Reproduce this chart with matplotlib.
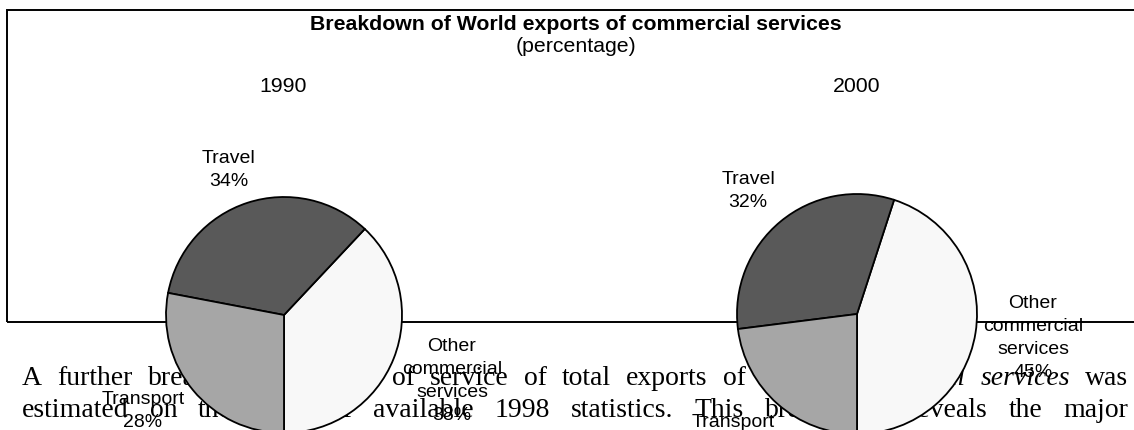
import matplotlib.pyplot as plt
from matplotlib.patches import Rectangle

## data
categories = ["Other\ncommercial\nservices", "Travel", "Transport"]
share_1990 = [38, 34, 28]
share_2000 = [45, 32, 23]
years = ["1990", "2000"]
slice_colors = ["#f8f8f8", "#595959", "#a6a6a6"]

line1 = [("A", ""), ("further", ""), ("breakdown", ""), ("by", ""), ("type", ""),
         ("of", ""), ("service", ""), ("of", ""), ("total", ""), ("exports", ""),
         ("of", ""), ("other", "italic"), ("commercial", "italic"),
         ("services", "italic"), ("was", "")]
line2 = [("estimated", ""), ("on", ""), ("the", ""), ("basis", ""), ("of", ""),
         ("available", ""), ("1998", ""), ("statistics.", ""), ("This", ""),
         ("breakdown", ""), ("reveals", ""), ("the", ""), ("major", "")]

W, H = 1134, 430
fig = plt.figure(figsize=(W / 100, H / 100), dpi=100)
ax = fig.add_axes([0, 0, 1, 1])
ax.set_xlim(0, W)
ax.set_ylim(0, H)
ax.axis("off")

sans = "Liberation Sans"
serif = "Liberation Serif"

# chart frame (runs off the right edge)
ax.add_patch(Rectangle((7, H - 322), 1140, 312, fill=False, edgecolor="black",
                       linewidth=1.4, zorder=2))

ax.text(576, H - 25, "Breakdown of World exports of commercial services",
        ha="center", va="center", fontsize=15.3, fontweight="bold", family=sans)
ax.text(576, H - 47, "(percentage)", ha="center", va="center", fontsize=15.3,
        family=sans)

# body text, justified word by word
renderer = fig.canvas.get_renderer()


def justified(words, left, right, base):
    items = []
    for w, style in words:
        t = ax.text(0, base, w, fontsize=20, family=serif,
                    style=style if style else "normal", va="baseline", zorder=1)
        items.append(t)
    widths = [t.get_window_extent(renderer).width for t in items]
    gap = (right - left - sum(widths)) / (len(items) - 1)
    x = left
    for t, wd in zip(items, widths):
        t.set_x(x)
        x += wd + gap


justified(line1, 22, 1128, H - 385)
justified(line2, 22, 1128, H - 417)

# pies
pies = [
    (share_1990, (284, H - 315), 118,
     [(452, 381), (229, 170), (143, 411)]),
    (share_2000, (857, H - 314), 120,
     [(1033, 338), (748, 191), (733, 434)]),
]
year_x = [283, 857]

for (shares, center, radius, label_pos), year, yx in zip(pies, years, year_x):
    ax.pie(shares, colors=slice_colors, startangle=270, counterclock=True,
           center=center, radius=radius, frame=True,
           wedgeprops=dict(edgecolor="black", linewidth=1.3, zorder=3))
    ax.text(yx, H - 86, year, ha="center", va="center", fontsize=15.3, family=sans)
    for cat, val, (lx, ly) in zip(categories, shares, label_pos):
        ax.text(lx, H - ly, f"{cat}\n{val}%", ha="center", va="center",
                fontsize=14, family=sans, linespacing=1.45, zorder=5)

ax.set_xlim(0, W)
ax.set_ylim(0, H)
ax.axis("off")

plt.savefig("out.png", dpi=100)
